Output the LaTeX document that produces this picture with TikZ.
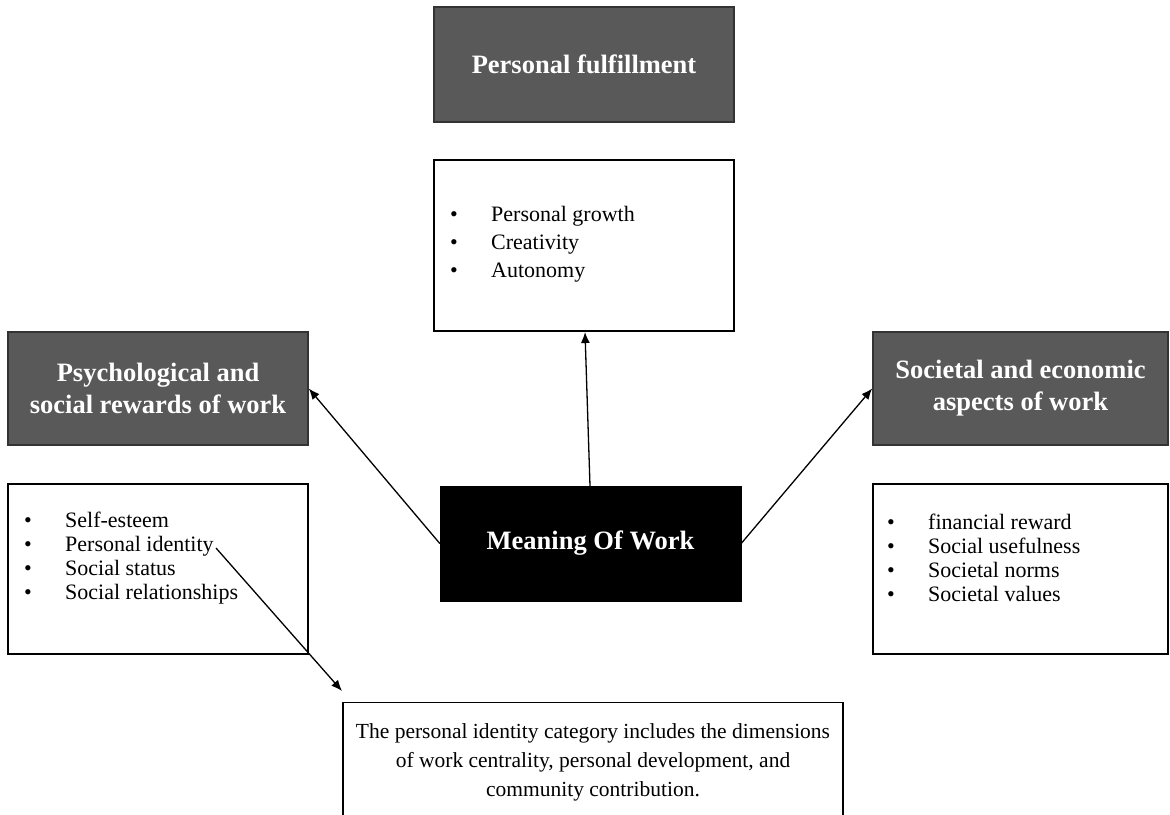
\documentclass[tikz,border=0pt]{standalone}
\usepackage{fontspec}
\setmainfont{Liberation Serif}
\usetikzlibrary{arrows.meta}
\definecolor{headfill}{HTML}{595959}
\definecolor{headdraw}{HTML}{333333}
\tikzset{
  headbox/.style={draw=headdraw, line width=1.6pt, fill=headfill, text=white, font=\bfseries\fontsize{26.5}{32}\selectfont, align=center, inner sep=0pt},
  listbox/.style={draw=black, line width=1.3pt, fill=white, inner sep=0pt},
  mainbox/.style={draw=black, fill=black, text=white, font=\bfseries\fontsize{26.5}{32}\selectfont, inner sep=0pt},
  listtext/.style={anchor=west, align=left, inner sep=0pt},
  conn/.style={line width=1.3pt, -{Latex[length=11pt,width=9pt]}},
}
\newcommand{\bul}{\makebox[41pt][l]{\textbullet}}
\begin{document}
\begin{tikzpicture}[x=1pt,y=-1pt]
\useasboundingbox (0,0) rectangle (1170,814);
% headings
\node[headbox, minimum width=300pt, minimum height=115pt] (pf) at (584,64.5) {Personal fulfillment};
\node[headbox, minimum width=300pt, minimum height=113pt] (ps) at (158,388.5) {Psychological and\\social rewards of work};
\node[headbox, minimum width=295pt, minimum height=113pt] (se) at (1020.5,388.5) {Societal and economic\\aspects of work};
% list boxes
\node[listbox, minimum width=300pt, minimum height=171pt] (pl) at (584,245.5) {};
\node[listtext, font=\fontsize{22}{28}\selectfont] (plt) at (450,244) {\bul Personal growth\\\bul Creativity\\\bul Autonomy};
\node[listbox, minimum width=300pt, minimum height=170pt] (ll) at (158,569) {};
\node[listtext, font=\fontsize{22}{24}\selectfont] (llt) at (24,558) {\bul Self-esteem\\\bul Personal identity\\\bul Social status\\\bul Social relationships};
\node[listbox, minimum width=295pt, minimum height=170pt] (rl) at (1020.5,569) {};
\node[listtext, font=\fontsize{22}{24}\selectfont] (rlt) at (887,558) {\bul financial reward\\\bul Social usefulness\\\bul Societal norms\\\bul Societal values};
% main
\node[mainbox, minimum width=301pt, minimum height=115pt] (mw) at (590.5,543.5) {Meaning Of Work};
% bottom note
\node[listbox, minimum width=500pt, minimum height=140pt, anchor=north] (note) at (593,702) {};
\node[align=center, font=\fontsize{21.5}{29}\selectfont, inner sep=0pt] (notet) at (593,762) {The personal identity category includes the dimensions\\of work centrality, personal development, and\\community contribution.};
% connectors
\coordinate (pid) at (216,548);
\coordinate (noteend) at (342,691);
\coordinate (mtop) at (590,486);
\coordinate (pltarget) at (585,332);
\draw[conn] (mtop) -- (pltarget);
\draw[conn] (mw.west) -- (ps.east);
\draw[conn] (mw.east) -- (se.west);
\draw[conn] (pid) -- (noteend);
\end{tikzpicture}
\end{document}
